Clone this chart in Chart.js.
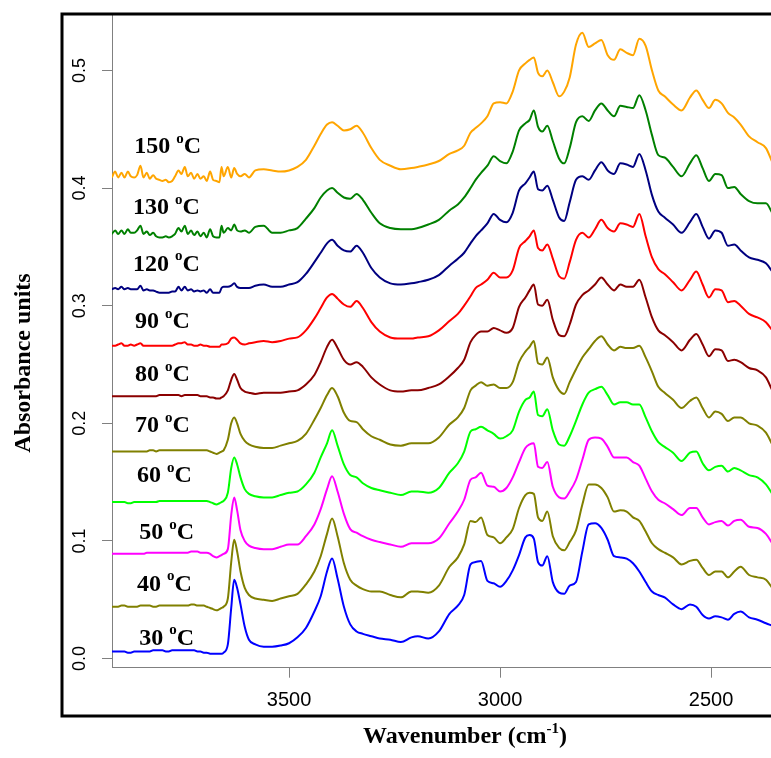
<!DOCTYPE html>
<html>
<head>
<meta charset="utf-8">
<title>FTIR spectra</title>
<script src="https://cdn.jsdelivr.net/npm/chart.js@4.4.1/dist/chart.umd.min.js"></script>
<style>
  body { margin: 0; background: #fff; }
  #wrap { width: 771px; height: 758px; }
</style>
</head>
<body>
<div id="wrap"><canvas id="spectra" width="771" height="758"></canvas></div>
<script>
// wavenumber grid (cm-1), shared by every spectrum
var wavenumber = [3920, 3912, 3905, 3897, 3890, 3882, 3875, 3867, 3860, 3852, 3845, 3837, 3830, 3822, 3815, 3807, 3800, 3792, 3785,
  3777, 3770, 3762, 3755, 3747, 3740, 3732, 3725, 3717, 3710, 3702, 3695, 3687, 3680, 3672, 3665, 3660, 3655,
  3645, 3637, 3630, 3623, 3615, 3605, 3595, 3580, 3560, 3540, 3520, 3500,
  3480, 3460, 3440, 3425, 3410, 3398, 3385, 3370, 3355, 3340, 3325, 3305, 3285, 3260, 3235, 3210, 3195, 3170, 3145, 3120,
  3100, 3085, 3070, 3058, 3045, 3030, 3015, 3000, 2985, 2970, 2955, 2940, 2930, 2920, 2910, 2900, 2888, 2875, 2860, 2848,
  2835, 2820, 2805, 2790, 2775, 2760, 2745, 2730, 2715, 2700, 2685, 2670, 2655, 2640, 2625, 2610, 2590, 2570, 2550, 2535,
  2520, 2505, 2490, 2475, 2460, 2445, 2430, 2410, 2390, 2370, 2355];

var temperatures = ['150', '130', '120', '90', '80', '70', '60', '50', '40', '30'];

var abs150 = [0.409, 0.414, 0.409, 0.413, 0.409, 0.414, 0.410, 0.409, 0.411, 0.419, 0.409, 0.413, 0.408, 0.411, 0.408, 0.407, 0.406, 0.407, 0.405,
  0.406, 0.410, 0.415, 0.412, 0.418, 0.410, 0.413, 0.408, 0.412, 0.408, 0.410, 0.406, 0.414, 0.407, 0.406, 0.405, 0.418, 0.410,
  0.418, 0.409, 0.417, 0.412, 0.410, 0.412, 0.409, 0.415, 0.416, 0.415, 0.414, 0.415,
  0.418, 0.424, 0.436, 0.446, 0.454, 0.456, 0.453, 0.449, 0.450, 0.453, 0.447, 0.434, 0.424, 0.419, 0.416, 0.417, 0.418, 0.420, 0.423, 0.429,
  0.432, 0.436, 0.447, 0.451, 0.455, 0.461, 0.472, 0.473, 0.472, 0.482, 0.500, 0.506, 0.509, 0.511, 0.498, 0.495, 0.500, 0.490, 0.478, 0.482,
  0.494, 0.522, 0.532, 0.520, 0.523, 0.526, 0.513, 0.509, 0.518, 0.515, 0.513, 0.527, 0.521, 0.500, 0.483, 0.478, 0.471, 0.466, 0.477, 0.483,
  0.475, 0.468, 0.475, 0.472, 0.464, 0.460, 0.454, 0.444, 0.439, 0.434, 0.422];

var abs130 = [0.361, 0.364, 0.361, 0.364, 0.361, 0.365, 0.362, 0.362, 0.364, 0.368, 0.361, 0.363, 0.360, 0.362, 0.359, 0.358, 0.358, 0.359, 0.358,
  0.359, 0.361, 0.366, 0.363, 0.368, 0.361, 0.364, 0.360, 0.363, 0.359, 0.362, 0.358, 0.365, 0.359, 0.358, 0.358, 0.368, 0.362,
  0.366, 0.364, 0.369, 0.364, 0.363, 0.364, 0.362, 0.367, 0.368, 0.362, 0.362, 0.364,
  0.366, 0.374, 0.383, 0.392, 0.398, 0.400, 0.396, 0.392, 0.391, 0.395, 0.390, 0.379, 0.370, 0.366, 0.365, 0.365, 0.366, 0.369, 0.373, 0.381,
  0.386, 0.392, 0.400, 0.407, 0.413, 0.419, 0.427, 0.423, 0.421, 0.431, 0.449, 0.455, 0.458, 0.466, 0.452, 0.448, 0.453, 0.440, 0.425, 0.421,
  0.434, 0.456, 0.461, 0.457, 0.466, 0.472, 0.466, 0.461, 0.470, 0.469, 0.468, 0.479, 0.466, 0.445, 0.428, 0.426, 0.418, 0.410, 0.421, 0.428,
  0.417, 0.406, 0.412, 0.411, 0.400, 0.401, 0.395, 0.389, 0.387, 0.387, 0.379];

var abs120 = [0.314, 0.315, 0.314, 0.316, 0.314, 0.315, 0.314, 0.314, 0.314, 0.317, 0.313, 0.314, 0.313, 0.313, 0.312, 0.311, 0.311, 0.311, 0.311,
  0.312, 0.312, 0.316, 0.313, 0.316, 0.313, 0.314, 0.312, 0.313, 0.312, 0.313, 0.311, 0.314, 0.311, 0.311, 0.311, 0.315, 0.316,
  0.316, 0.317, 0.319, 0.316, 0.315, 0.315, 0.315, 0.317, 0.318, 0.316, 0.316, 0.318,
  0.320, 0.327, 0.337, 0.345, 0.353, 0.356, 0.351, 0.347, 0.346, 0.351, 0.345, 0.332, 0.324, 0.319, 0.318, 0.319, 0.320, 0.322, 0.326, 0.334,
  0.340, 0.345, 0.353, 0.359, 0.364, 0.370, 0.378, 0.373, 0.371, 0.379, 0.398, 0.404, 0.409, 0.414, 0.399, 0.398, 0.402, 0.390, 0.375, 0.372,
  0.388, 0.407, 0.410, 0.407, 0.415, 0.422, 0.415, 0.412, 0.421, 0.420, 0.418, 0.429, 0.415, 0.394, 0.380, 0.375, 0.369, 0.362, 0.371, 0.378,
  0.367, 0.357, 0.364, 0.362, 0.351, 0.352, 0.347, 0.341, 0.339, 0.336, 0.329];

var abs90 = [0.266, 0.266, 0.267, 0.268, 0.266, 0.266, 0.267, 0.266, 0.267, 0.268, 0.266, 0.266, 0.266, 0.266, 0.266, 0.266, 0.266, 0.266, 0.266,
  0.266, 0.267, 0.268, 0.268, 0.269, 0.267, 0.267, 0.266, 0.266, 0.267, 0.266, 0.266, 0.265, 0.265, 0.265, 0.265, 0.267, 0.267,
  0.268, 0.272, 0.273, 0.271, 0.268, 0.267, 0.268, 0.269, 0.270, 0.269, 0.270, 0.272,
  0.273, 0.279, 0.289, 0.298, 0.307, 0.310, 0.306, 0.301, 0.299, 0.304, 0.298, 0.286, 0.278, 0.273, 0.272, 0.272, 0.273, 0.274, 0.279, 0.287,
  0.293, 0.300, 0.308, 0.315, 0.318, 0.322, 0.328, 0.324, 0.324, 0.330, 0.349, 0.355, 0.359, 0.364, 0.349, 0.347, 0.352, 0.340, 0.325, 0.323,
  0.337, 0.356, 0.362, 0.358, 0.365, 0.373, 0.366, 0.363, 0.370, 0.369, 0.367, 0.378, 0.359, 0.341, 0.331, 0.327, 0.320, 0.313, 0.322, 0.329,
  0.318, 0.307, 0.314, 0.313, 0.303, 0.304, 0.300, 0.293, 0.290, 0.286, 0.279];

var abs80 = [0.223, 0.223, 0.223, 0.223, 0.223, 0.223, 0.223, 0.223, 0.223, 0.223, 0.223, 0.223, 0.223, 0.223, 0.223, 0.224, 0.224, 0.224, 0.224,
  0.224, 0.224, 0.224, 0.223, 0.224, 0.224, 0.224, 0.224, 0.224, 0.223, 0.223, 0.223, 0.222, 0.222, 0.221, 0.221, 0.222, 0.223,
  0.228, 0.237, 0.242, 0.237, 0.230, 0.227, 0.226, 0.225, 0.226, 0.226, 0.226, 0.227,
  0.228, 0.233, 0.241, 0.252, 0.265, 0.271, 0.264, 0.254, 0.250, 0.252, 0.248, 0.239, 0.233, 0.228, 0.227, 0.228, 0.228, 0.230, 0.233, 0.240,
  0.247, 0.254, 0.269, 0.275, 0.278, 0.278, 0.281, 0.279, 0.277, 0.281, 0.299, 0.307, 0.313, 0.318, 0.301, 0.300, 0.305, 0.288, 0.275, 0.274,
  0.284, 0.301, 0.309, 0.313, 0.318, 0.324, 0.318, 0.313, 0.318, 0.316, 0.316, 0.322, 0.307, 0.290, 0.279, 0.275, 0.269, 0.262, 0.271, 0.276,
  0.267, 0.257, 0.263, 0.262, 0.253, 0.254, 0.252, 0.247, 0.245, 0.239, 0.228];

var abs70 = [0.176, 0.176, 0.176, 0.176, 0.176, 0.176, 0.176, 0.176, 0.176, 0.176, 0.176, 0.176, 0.177, 0.177, 0.176, 0.177, 0.177, 0.177, 0.177,
  0.177, 0.177, 0.177, 0.177, 0.177, 0.177, 0.177, 0.177, 0.177, 0.177, 0.177, 0.177, 0.176, 0.175, 0.174, 0.175, 0.176, 0.177,
  0.186, 0.200, 0.205, 0.200, 0.191, 0.185, 0.182, 0.180, 0.179, 0.179, 0.181, 0.183,
  0.185, 0.191, 0.203, 0.213, 0.224, 0.230, 0.223, 0.209, 0.202, 0.201, 0.195, 0.189, 0.186, 0.182, 0.181, 0.183, 0.183, 0.183, 0.188, 0.199,
  0.205, 0.213, 0.228, 0.232, 0.235, 0.232, 0.233, 0.230, 0.230, 0.235, 0.252, 0.261, 0.265, 0.270, 0.251, 0.250, 0.256, 0.239, 0.228, 0.225,
  0.235, 0.246, 0.256, 0.263, 0.270, 0.274, 0.267, 0.262, 0.265, 0.264, 0.264, 0.266, 0.256, 0.244, 0.231, 0.226, 0.220, 0.213, 0.219, 0.222,
  0.213, 0.205, 0.210, 0.208, 0.202, 0.205, 0.205, 0.200, 0.198, 0.192, 0.182];

var abs60 = [0.133, 0.133, 0.133, 0.133, 0.133, 0.132, 0.132, 0.133, 0.133, 0.133, 0.133, 0.133, 0.133, 0.133, 0.133, 0.134, 0.134, 0.134, 0.134,
  0.134, 0.134, 0.134, 0.134, 0.134, 0.134, 0.134, 0.134, 0.134, 0.134, 0.134, 0.134, 0.133, 0.132, 0.131, 0.132, 0.133, 0.134,
  0.141, 0.162, 0.171, 0.165, 0.154, 0.144, 0.140, 0.138, 0.137, 0.137, 0.139, 0.141,
  0.142, 0.148, 0.158, 0.171, 0.183, 0.194, 0.181, 0.165, 0.156, 0.154, 0.149, 0.145, 0.143, 0.141, 0.139, 0.142, 0.142, 0.141, 0.145, 0.158,
  0.166, 0.176, 0.193, 0.195, 0.197, 0.194, 0.191, 0.187, 0.189, 0.194, 0.210, 0.220, 0.222, 0.227, 0.207, 0.206, 0.212, 0.194, 0.182, 0.181,
  0.189, 0.202, 0.216, 0.226, 0.229, 0.231, 0.224, 0.216, 0.218, 0.218, 0.216, 0.216, 0.205, 0.193, 0.184, 0.180, 0.175, 0.168, 0.175, 0.176,
  0.166, 0.160, 0.163, 0.164, 0.159, 0.162, 0.160, 0.156, 0.154, 0.148, 0.140];

var abs50 = [0.089, 0.089, 0.089, 0.089, 0.089, 0.089, 0.089, 0.089, 0.089, 0.089, 0.089, 0.090, 0.090, 0.090, 0.090, 0.090, 0.090, 0.090, 0.090,
  0.090, 0.090, 0.090, 0.090, 0.090, 0.090, 0.091, 0.091, 0.091, 0.090, 0.090, 0.090, 0.089, 0.087, 0.086, 0.087, 0.088, 0.089,
  0.093, 0.122, 0.137, 0.126, 0.109, 0.100, 0.096, 0.094, 0.093, 0.093, 0.095, 0.097,
  0.097, 0.104, 0.114, 0.127, 0.144, 0.155, 0.142, 0.123, 0.110, 0.107, 0.104, 0.101, 0.099, 0.097, 0.095, 0.098, 0.098, 0.098, 0.102, 0.115,
  0.125, 0.135, 0.152, 0.154, 0.158, 0.147, 0.146, 0.142, 0.145, 0.154, 0.167, 0.179, 0.182, 0.183, 0.163, 0.162, 0.167, 0.146, 0.137, 0.136,
  0.142, 0.152, 0.169, 0.186, 0.188, 0.187, 0.180, 0.171, 0.171, 0.171, 0.167, 0.164, 0.153, 0.142, 0.135, 0.132, 0.127, 0.122, 0.128, 0.128,
  0.120, 0.114, 0.116, 0.117, 0.113, 0.117, 0.118, 0.112, 0.111, 0.106, 0.098];

var abs40 = [0.044, 0.044, 0.044, 0.045, 0.045, 0.044, 0.044, 0.044, 0.044, 0.045, 0.045, 0.045, 0.045, 0.044, 0.044, 0.045, 0.045, 0.045, 0.045,
  0.045, 0.045, 0.045, 0.045, 0.045, 0.045, 0.046, 0.046, 0.045, 0.045, 0.045, 0.044, 0.043, 0.042, 0.041, 0.042, 0.043, 0.044,
  0.051, 0.082, 0.101, 0.091, 0.074, 0.060, 0.054, 0.051, 0.050, 0.049, 0.051, 0.053,
  0.055, 0.063, 0.074, 0.087, 0.106, 0.119, 0.104, 0.081, 0.067, 0.062, 0.059, 0.057, 0.057, 0.054, 0.052, 0.057, 0.057, 0.056, 0.062, 0.078,
  0.086, 0.097, 0.117, 0.116, 0.120, 0.105, 0.103, 0.098, 0.103, 0.110, 0.128, 0.139, 0.141, 0.140, 0.120, 0.117, 0.125, 0.104, 0.094, 0.092,
  0.099, 0.109, 0.131, 0.148, 0.148, 0.145, 0.137, 0.125, 0.126, 0.125, 0.120, 0.117, 0.108, 0.098, 0.093, 0.090, 0.086, 0.080, 0.083, 0.084,
  0.077, 0.071, 0.074, 0.074, 0.069, 0.074, 0.078, 0.071, 0.069, 0.067, 0.060];

var abs30 = [0.006, 0.006, 0.006, 0.006, 0.006, 0.005, 0.005, 0.006, 0.006, 0.006, 0.006, 0.006, 0.006, 0.007, 0.007, 0.007, 0.007, 0.006, 0.006,
  0.007, 0.007, 0.007, 0.007, 0.007, 0.007, 0.007, 0.007, 0.006, 0.006, 0.005, 0.005, 0.004, 0.004, 0.004, 0.004, 0.004, 0.005,
  0.012, 0.043, 0.067, 0.060, 0.046, 0.027, 0.016, 0.012, 0.010, 0.010, 0.011, 0.013,
  0.018, 0.026, 0.040, 0.053, 0.074, 0.085, 0.068, 0.044, 0.029, 0.023, 0.021, 0.019, 0.017, 0.016, 0.014, 0.018, 0.019, 0.017, 0.023, 0.038,
  0.045, 0.054, 0.080, 0.082, 0.083, 0.066, 0.064, 0.061, 0.066, 0.075, 0.088, 0.103, 0.105, 0.102, 0.082, 0.079, 0.087, 0.065, 0.056, 0.055,
  0.062, 0.065, 0.091, 0.114, 0.115, 0.111, 0.101, 0.087, 0.086, 0.085, 0.081, 0.074, 0.065, 0.057, 0.054, 0.052, 0.046, 0.042, 0.046, 0.044,
  0.037, 0.034, 0.036, 0.035, 0.033, 0.038, 0.040, 0.035, 0.033, 0.030, 0.028];

var xTicks = [3500, 3000, 2500];
var yTicks = [0.0, 0.1, 0.2, 0.3, 0.4, 0.5];

var spectra = [abs150, abs130, abs120, abs90, abs80, abs70, abs60, abs50, abs40, abs30];
var lineColors = ['#FFA500', '#008000', '#000080', '#FF0000', '#8B0000', '#808000', '#00FF00', '#FF00FF', '#808000', '#0000FF'];

// where each temperature tag sits: [wavenumber at left edge, absorbance at mid-height]
var tagAt = [[3867, 0.435], [3870, 0.383], [3870, 0.335], [3865, 0.286], [3865, 0.241],
  [3865, 0.198], [3860, 0.155], [3855, 0.107], [3860, 0.063], [3855, 0.017]];

var datasets = spectra.map(function (ys, i) {
  return {
    label: temperatures[i] + ' °C',
    data: wavenumber.map(function (w, k) { return { x: w, y: ys[k] }; }),
    borderColor: lineColors[i],
    borderWidth: 2,
    pointRadius: 0,
    cubicInterpolationMode: 'monotone',
    fill: false
  };
});

var SERIF = '"Liberation Serif", "Times New Roman", serif';
var SANS = '"Liberation Sans", Arial, sans-serif';

// draws a string where the middle piece is raised and smaller
function drawSup(ctx, x, y, before, sup, after, size, supSize, rise) {
  ctx.font = 'bold ' + size + 'px ' + SERIF;
  ctx.fillText(before, x, y);
  x += ctx.measureText(before).width;
  ctx.font = 'bold ' + supSize + 'px ' + SERIF;
  ctx.fillText(sup, x, y - rise);
  x += ctx.measureText(sup).width;
  ctx.font = 'bold ' + size + 'px ' + SERIF;
  ctx.fillText(after, x, y);
}

function supWidth(ctx, before, sup, after, size, supSize) {
  ctx.font = 'bold ' + size + 'px ' + SERIF;
  var w = ctx.measureText(before).width + ctx.measureText(after).width;
  ctx.font = 'bold ' + supSize + 'px ' + SERIF;
  return w + ctx.measureText(sup).width;
}

var decorations = {
  id: 'decorations',
  afterDraw: function (chart) {
    var ctx = chart.ctx;
    var xs = chart.scales.x, ys = chart.scales.y;
    ctx.save();
    ctx.fillStyle = '#000';

    // rotated y tick labels
    ctx.font = '18px ' + SANS;
    ctx.textAlign = 'center';
    ctx.textBaseline = 'middle';
    yTicks.forEach(function (v) {
      ctx.save();
      ctx.translate(80, ys.getPixelForValue(v));
      ctx.rotate(-Math.PI / 2);
      ctx.fillText(v.toFixed(1), 0, 0);
      ctx.restore();
    });

    // temperature tags
    ctx.textAlign = 'left';
    tagAt.forEach(function (p, i) {
      drawSup(ctx, xs.getPixelForValue(p[0]), ys.getPixelForValue(p[1]),
        temperatures[i] + ' ', 'o', 'C', 24, 15, 8);
    });

    // axis titles
    var w = supWidth(ctx, 'Wavenumber (cm', '-1', ')', 24, 15);
    drawSup(ctx, 465 - w / 2, 737, 'Wavenumber (cm', '-1', ')', 24, 15, 8);

    ctx.save();
    ctx.translate(24, 363);
    ctx.rotate(-Math.PI / 2);
    ctx.textAlign = 'center';
    ctx.font = 'bold 24px ' + SERIF;
    ctx.fillText('Absorbance units', 0, 0);
    ctx.restore();

    // outer frame
    ctx.strokeStyle = '#000';
    ctx.lineWidth = 3;
    ctx.strokeRect(62, 14, 800, 702);
    ctx.restore();
  }
};

new Chart(document.getElementById('spectra'), {
  type: 'line',
  data: { datasets: datasets },
  options: {
    responsive: false,
    animation: false,
    layout: { padding: { top: 14, right: 0, left: 0, bottom: 0 } },
    plugins: { legend: { display: false }, tooltip: { enabled: false } },
    scales: {
      x: {
        type: 'linear',
        reverse: true,
        min: 2358,
        max: 3919.5,
        afterBuildTicks: function (s) { s.ticks = xTicks.map(function (v) { return { value: v }; }); },
        afterFit: function (s) { s.height = 90.3; },
        ticks: {
          color: '#000', font: { family: SANS, size: 20 }, padding: 11, maxRotation: 0,
          callback: function (v) { return String(v); }
        },
        grid: { drawOnChartArea: false, drawTicks: true, tickLength: 10, color: '#808080' },
        border: { display: true, color: '#808080', width: 1 }
      },
      y: {
        type: 'linear',
        min: -0.0078,
        max: 0.548,
        afterBuildTicks: function (s) { s.ticks = yTicks.map(function (v) { return { value: v }; }); },
        afterFit: function (s) { s.width = 112; },
        ticks: { display: false },
        grid: { drawOnChartArea: false, drawTicks: true, tickLength: 10, color: '#808080' },
        border: { display: true, color: '#808080', width: 1 }
      }
    }
  },
  plugins: [decorations]
});
</script>
</body>
</html>
